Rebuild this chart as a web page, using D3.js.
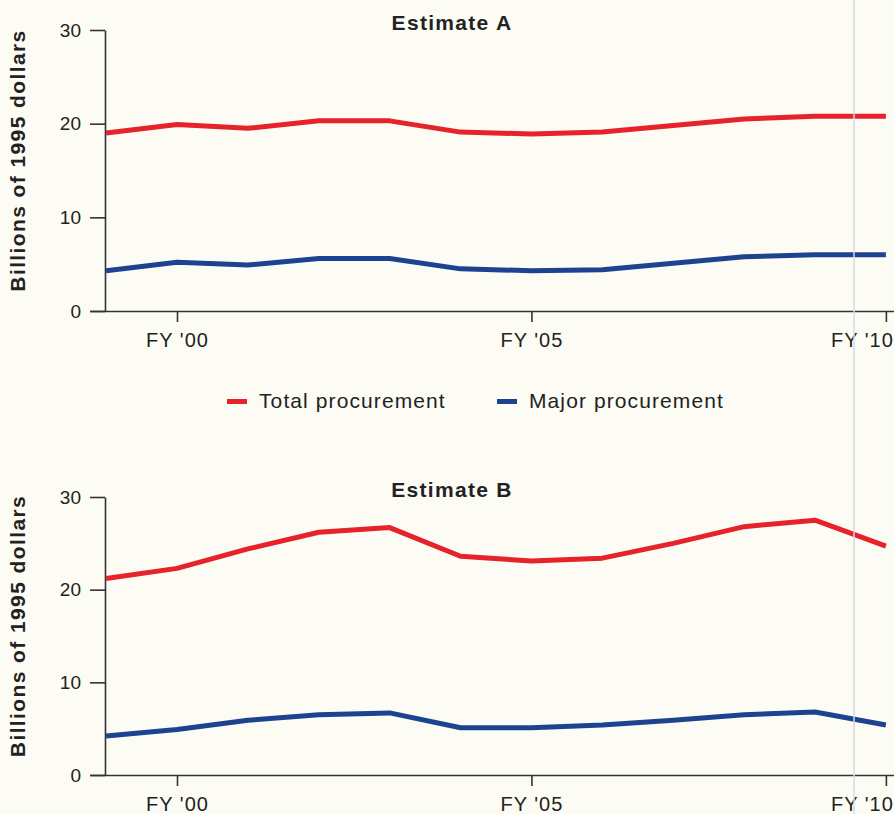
<!DOCTYPE html>
<html lang="en">
<head>
<meta charset="UTF-8">
<script src="https://d3js.org/d3.v7.min.js"></script>
<title>Procurement estimates</title>
<style>
  body { margin: 0; background: #fcfcf4; }
  svg { display: block; font-family: "Liberation Sans", Arial, sans-serif; }
  .tick text { fill: #222; }
</style>
</head>
<body>
<div id="chart"></div>
<script>
// fiscal years and values, billions of 1995 dollars
var years = [1999, 2000, 2001, 2002, 2003, 2004, 2005, 2006, 2007, 2008, 2009, 2010];
var estA_total = [19.0, 19.9, 19.5, 20.3, 20.3, 19.1, 18.9, 19.1, 19.8, 20.5, 20.8, 20.8];
var estA_major = [4.3, 5.2, 4.9, 5.6, 5.6, 4.5, 4.3, 4.4, 5.1, 5.8, 6.0, 6.0];
var estB_total = [21.2, 22.3, 24.4, 26.2, 26.7, 23.6, 23.1, 23.4, 25.0, 26.8, 27.5, 24.7];
var estB_major = [4.2, 4.9, 5.9, 6.5, 6.7, 5.1, 5.1, 5.4, 5.9, 6.5, 6.8, 5.4];
var xTicks = [2000, 2005, 2010];
var xTickLabels = ["FY '00", "FY '05", "FY '10"];
var yTicks = [0, 10, 20, 30];
var seriesNames = ["Total procurement", "Major procurement"];
var colors = ["#e6222a", "#1c4290"];

var width = 894, height = 814;
var svg = d3.select("#chart").append("svg")
    .attr("width", width).attr("height", height);

svg.append("rect").attr("width", width).attr("height", height).attr("fill", "#fcfcf4");

var x = d3.scaleLinear().domain([2000, 2009]).range([177, 815]);
// axis line runs a bit past the plot on both sides
var xAxisScale = x.copy().domain([x.invert(90), x.invert(894)]).range([90, 894]);

function panel(title, total, major, top, bottom, titleY) {
    var y = d3.scaleLinear().domain([0, 30]).range([bottom, top]);
    var g = svg.append("g");

    var yAxis = g.append("g").attr("transform", "translate(105,0)")
        .call(d3.axisLeft(y).tickValues(yTicks).tickSize(15).tickSizeOuter(0).tickPadding(9));
    yAxis.selectAll("text").style("font-size", "19px");

    var xAxis = g.append("g").attr("transform", "translate(0," + bottom + ")")
        .call(d3.axisBottom(xAxisScale).tickValues(xTicks).tickSize(11).tickSizeOuter(0).tickPadding(11)
            .tickFormat(function (d, i) { return xTickLabels[i]; }));
    xAxis.selectAll("text").style("font-size", "20px").style("letter-spacing", "1px");
    xAxis.selectAll(".tick:last-of-type text").attr("dx", -24);

    g.selectAll(".domain, .tick line").attr("stroke", "#333").attr("stroke-width", 1.6);

    g.append("text")
        .attr("transform", "translate(25," + ((top + bottom) / 2 - 10) + ") rotate(-90)")
        .attr("text-anchor", "middle")
        .style("font-size", "21px").style("font-weight", "bold").style("letter-spacing", "1.4px")
        .attr("fill", "#222")
        .text("Billions of 1995 dollars");

    g.append("text")
        .attr("x", 452).attr("y", titleY)
        .attr("text-anchor", "middle")
        .style("font-size", "21px").style("font-weight", "bold").style("letter-spacing", "1.3px")
        .attr("fill", "#222")
        .text(title);

    var line = d3.line()
        .x(function (d, i) { return x(years[i]); })
        .y(function (d) { return y(d); });

    [total, major].forEach(function (vals, k) {
        g.append("path")
            .attr("d", line(vals))
            .attr("fill", "none")
            .attr("stroke", colors[k])
            .attr("stroke-width", 5)
            .attr("stroke-linejoin", "round");
    });
}

panel("Estimate A", estA_total, estA_major, 30, 311, 30);
panel("Estimate B", estB_total, estB_major, 497, 775, 497);

// legend
var legendX = [227, 497];
seriesNames.forEach(function (name, i) {
    svg.append("rect")
        .attr("x", legendX[i]).attr("y", 399)
        .attr("width", 20).attr("height", 5)
        .attr("fill", colors[i]);
    svg.append("text")
        .attr("x", legendX[i] + 32).attr("y", 408)
        .style("font-size", "21px").style("letter-spacing", "1.1px")
        .attr("fill", "#222")
        .text(name);
});

// faint fold line from the scanned page
svg.append("line")
    .attr("x1", 854).attr("x2", 854).attr("y1", 0).attr("y2", height)
    .attr("stroke", "#d6dae4").attr("stroke-width", 1.5);
</script>
</body>
</html>
